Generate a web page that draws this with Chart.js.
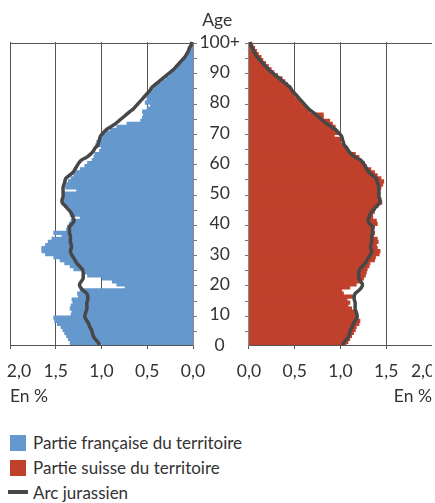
<!DOCTYPE html>
<html>
<head>
<meta charset="utf-8">
<script src="https://cdn.jsdelivr.net/npm/chart.js@4"></script>
<style>
  html, body { margin: 0; padding: 0; overflow: hidden; background: #fff; }
  #wrap { position: relative; width: 435px; height: 503px; overflow: hidden; }
  #left { position: absolute; left: 0; top: 0; }
  #right { position: absolute; left: 194px; top: 0; }
  #legend { position: absolute; left: 10px; top: 430px; color: #333;
    font: 17px Lato, 'Liberation Sans', sans-serif; }
  #legend .row { height: 25px; line-height: 25px; white-space: nowrap; }
  #legend .sw { display: inline-block; width: 16px; height: 16px; margin-right: 7px; vertical-align: -2px; }
  #legend .ln { display: inline-block; width: 20px; height: 4px; margin-left: -2px; margin-right: 5px; vertical-align: 5px; }
</style>
</head>
<body>
<div id="wrap">
  <canvas id="left" width="210" height="407"></canvas>
  <canvas id="right" width="238" height="407"></canvas>
  <div id="legend"></div>
</div>
<script>
// ages 0..100+, one bar per year
const ages = [];
for (let i = 0; i <= 100; i++) ages.push(i === 100 ? '100+' : String(i));

// share of population by age, in %
const french = [
  1.34, 1.34, 1.36, 1.38, 1.40, 1.42, 1.44, 1.48, 1.51, 1.52,
  1.33, 1.32, 1.34, 1.33, 1.31, 1.32, 1.25, 1.26, 1.23, 0.74,
  0.83, 0.88, 0.99, 1.15, 1.18, 1.30, 1.34, 1.40, 1.45, 1.52,
  1.61, 1.65, 1.65, 1.61, 1.58, 1.54, 1.43, 1.52, 1.38, 1.37,
  1.35, 1.33, 1.23, 1.34, 1.35, 1.34, 1.40, 1.42, 1.42, 1.40,
  1.41, 1.27, 1.39, 1.38, 1.36, 1.33, 1.30, 1.28, 1.23, 1.18,
  1.15, 1.10, 1.08, 1.07, 1.02, 1.00, 1.06, 1.05, 1.03, 0.99,
  0.95, 0.90, 0.83, 0.72, 0.57, 0.55, 0.54, 0.55, 0.50, 0.46,
  0.52, 0.50, 0.50, 0.48, 0.44, 0.42, 0.38, 0.33, 0.29, 0.25,
  0.22, 0.20, 0.17, 0.15, 0.12, 0.09, 0.07, 0.05, 0.04, 0.03,
  0.03
];

const swiss = [
  1.06, 1.08, 1.10, 1.12, 1.14, 1.16, 1.17, 1.20, 1.21, 1.19,
  1.18, 1.15, 1.12, 1.08, 1.10, 1.07, 1.13, 1.03, 1.01, 1.10,
  1.17, 1.22, 1.25, 1.27, 1.28, 1.29, 1.31, 1.32, 1.37, 1.38,
  1.42, 1.43, 1.40, 1.39, 1.41, 1.40, 1.36, 1.37, 1.36, 1.37,
  1.40, 1.39, 1.35, 1.35, 1.37, 1.38, 1.41, 1.45, 1.44, 1.42,
  1.43, 1.42, 1.44, 1.46, 1.47, 1.44, 1.40, 1.37, 1.33, 1.28,
  1.26, 1.22, 1.20, 1.16, 1.08, 1.06, 1.02, 1.00, 0.99, 0.93,
  0.97, 0.95, 0.94, 0.91, 0.88, 0.81, 0.81, 0.66, 0.63, 0.60,
  0.57, 0.55, 0.50, 0.49, 0.47, 0.45, 0.42, 0.39, 0.36, 0.31,
  0.27, 0.24, 0.21, 0.18, 0.15, 0.13, 0.10, 0.08, 0.06, 0.04,
  0.03
];

const arc = [
  1.02, 1.04, 1.07, 1.09, 1.10, 1.11, 1.13, 1.14, 1.16, 1.18,
  1.18, 1.17, 1.16, 1.16, 1.16, 1.15, 1.15, 1.16, 1.20, 1.23,
  1.24, 1.22, 1.20, 1.20, 1.20, 1.21, 1.24, 1.27, 1.29, 1.31,
  1.33, 1.34, 1.33, 1.33, 1.34, 1.34, 1.34, 1.35, 1.35, 1.35,
  1.32, 1.30, 1.31, 1.32, 1.34, 1.37, 1.40, 1.43, 1.43, 1.42,
  1.42, 1.42, 1.42, 1.41, 1.40, 1.39, 1.35, 1.31, 1.29, 1.27,
  1.25, 1.22, 1.16, 1.12, 1.09, 1.07, 1.04, 1.03, 1.02, 1.01,
  0.98, 0.95, 0.90, 0.85, 0.81, 0.77, 0.73, 0.69, 0.65, 0.62,
  0.59, 0.56, 0.53, 0.50, 0.47, 0.45, 0.41, 0.37, 0.33, 0.29,
  0.25, 0.21, 0.18, 0.15, 0.12, 0.09, 0.07, 0.05, 0.04, 0.02,
  0.01
];

const seriesNames = ['Partie française du territoire', 'Partie suisse du territoire', 'Arc jurassien'];

const blue = '#6598cd';
const red = '#c0412b';
const lineColor = '#474747';
const axisColor = '#555';
const textColor = '#333';
const family = "Lato, 'Liberation Sans', sans-serif";
const font = { family, size: 17.5 };

const fmt = v => Math.abs(v).toFixed(1).replace('.', ',');

const yAxis = (position, showLabels) => ({
  type: 'category',
  position,
  reverse: true,
  offset: false,
  border: { display: true, color: '#888' },
  grid: {
    color: c => (c.index === 100 ? axisColor : 'transparent'),
    tickColor: c => (c.index % 5 === 0 ? '#777' : 'transparent'),
    tickLength: 4,
  },
  ticks: {
    display: showLabels,
    autoSkip: false,
    padding: 5,
    crossAlign: 'center',
    font,
    color: textColor,
    callback: (v, i) => (i % 10 === 0 ? ages[i] : ''),
  },
});

const xAxis = (min, max, edgeLabel, align) => ({
  type: 'linear',
  min,
  max,
  border: { color: axisColor },
  grid: { color: axisColor, tickColor: axisColor, tickLength: 4 },
  ticks: {
    stepSize: 0.5,
    autoSkip: false,
    maxRotation: 0,
    padding: 11.5,
    font,
    color: textColor,
    callback: edgeLabel,
  },
  title: { display: true, text: 'En %', align, font, color: textColor, padding: { top: -7, bottom: 0 } },
  // let the edge labels run past the plot instead of shrinking it
  afterFit: s => { s.paddingLeft = 0; s.paddingRight = 0; },
});

const lineSet = sign => ({
  type: 'line',
  label: seriesNames[2],
  data: arc.map(v => sign * v),
  indexAxis: 'y',
  borderColor: lineColor,
  borderWidth: 3.5,
  pointRadius: 0,
  tension: 0.3,
  order: 0,
});

const barSet = (name, values, sign, color) => ({
  type: 'bar',
  label: name,
  data: values.map(v => sign * v),
  backgroundColor: color,
  barPercentage: 1,
  categoryPercentage: 1,
  inflateAmount: 0.6,
  order: 1,
});

const common = {
  responsive: false,
  animation: false,
  indexAxis: 'y',
  plugins: { legend: { display: false }, tooltip: { enabled: false } },
};

// left panel: French part, drawn on negative values so it grows to the left
new Chart(document.getElementById('left'), {
  type: 'bar',
  data: { labels: ages, datasets: [lineSet(-1), barSet(seriesNames[0], french, -1, blue)] },
  options: {
    ...common,
    layout: { padding: { left: 10, right: 13, top: 42, bottom: 0 } },
    scales: {
      x: xAxis(-2, 0, v => (v === -2 ? '    ' + fmt(v) : fmt(v)), 'start'),
      y: yAxis('right', false),
    },
  },
});

// "Age" header over the age labels
const ageTitle = {
  id: 'ageTitle',
  afterDraw(chart) {
    const s = chart.scales.y;
    const ctx = chart.ctx;
    ctx.save();
    ctx.font = `17.5px ${family}`;
    ctx.fillStyle = textColor;
    ctx.textAlign = 'center';
    ctx.textBaseline = 'middle';
    const x = (s.left + s.right - s.options.grid.tickLength - s.options.ticks.padding) / 2;
    ctx.fillText('Age', x, s.top - 22);
    ctx.restore();
  },
};

// right panel: Swiss part
new Chart(document.getElementById('right'), {
  type: 'bar',
  data: { labels: ages, datasets: [lineSet(1), barSet(seriesNames[1], swiss, 1, red)] },
  options: {
    ...common,
    layout: { padding: { left: 0.4, right: 0, top: 42, bottom: 0 } },
    scales: {
      x: xAxis(0, 2, v => (v === 2 ? fmt(v) + '    ' : fmt(v)), 'end'),
      y: yAxis('left', true),
    },
  },
  plugins: [ageTitle],
});

// legend
const legend = document.getElementById('legend');
[[seriesNames[0], blue, 'sw'], [seriesNames[1], red, 'sw'], [seriesNames[2], lineColor, 'ln']].forEach(([name, color, cls]) => {
  const row = document.createElement('div');
  row.className = 'row';
  const mark = document.createElement('span');
  mark.className = cls;
  mark.style.background = color;
  row.appendChild(mark);
  row.appendChild(document.createTextNode(name));
  legend.appendChild(row);
});
</script>
</body>
</html>
